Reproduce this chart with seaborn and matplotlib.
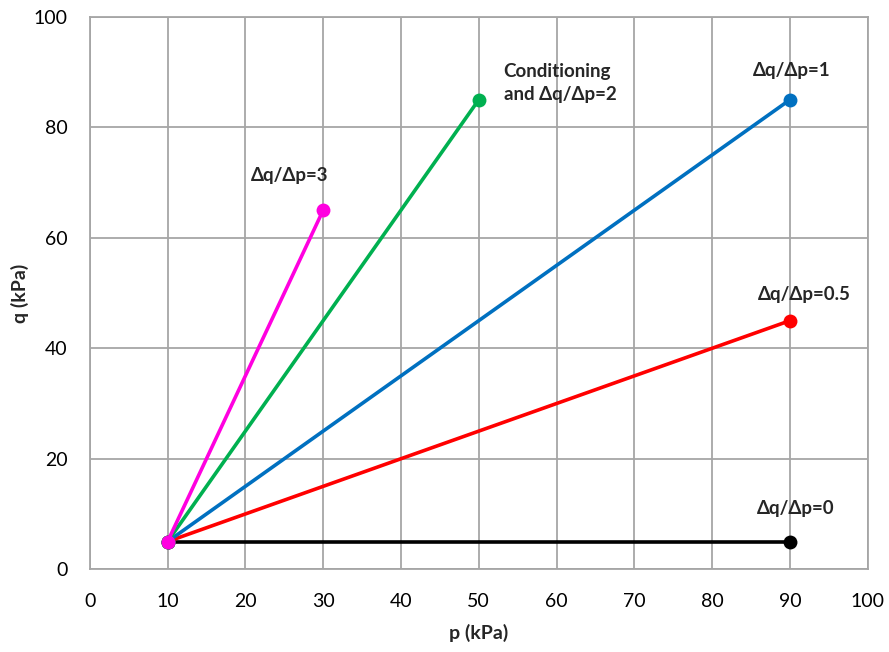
import matplotlib
matplotlib.use("Agg")
import matplotlib.pyplot as plt
import seaborn as sns
import pandas as pd

# Data
series_names = ["Δq/Δp=0", "Δq/Δp=0.5", "Δq/Δp=1", "Conditioning and Δq/Δp=2", "Δq/Δp=3"]
p_start = [10, 10, 10, 10, 10]
q_start = [5, 5, 5, 5, 5]
p_end = [90, 90, 90, 50, 30]
q_end = [5, 45, 85, 85, 65]
colors = ["#000000", "#FF0000", "#0070C0", "#00B050", "#FF00E0"]
x_ticks = list(range(0, 101, 10))
y_ticks = list(range(0, 101, 20))

labels_text = ["Δq/Δp=0", "Δq/Δp=0.5", "Δq/Δp=1", "Conditioning\nand Δq/Δp=2", "Δq/Δp=3"]
label_pos = [(90.7, 11.0, "center"), (91.9, 49.8, "center"), (90.2, 90.3, "center"),
             (53.2, 88.0, "left"), (25.7, 71.2, "center")]

rows = []
for name, ps, qs, pe, qe in zip(series_names, p_start, q_start, p_end, q_end):
    rows.append({"series": name, "p": ps, "q": qs})
    rows.append({"series": name, "p": pe, "q": qe})
df = pd.DataFrame(rows)

sns.set_style("white")
plt.rcParams["font.family"] = ["Lato", "DejaVu Sans"]

fig = plt.figure(figsize=(8.89, 6.52), dpi=100)
ax = fig.add_axes([0.101, 0.127, 0.875, 0.847])

sns.lineplot(data=df, x="p", y="q", hue="series", hue_order=series_names,
             palette=colors, marker="o", markersize=10, markeredgewidth=0,
             linewidth=2.6, legend=False, ax=ax, sort=False, zorder=3)

ax.set_xlim(0, 100)
ax.set_ylim(0, 100)
ax.set_xticks(x_ticks)
ax.set_yticks(y_ticks)
ax.grid(True, color="#A6A6A6", linewidth=1.3)
ax.set_axisbelow(True)
for s in ax.spines.values():
    s.set_color("#A6A6A6")
    s.set_linewidth(1.3)
ax.tick_params(axis="both", which="major", length=5, width=1.3, color="#A6A6A6",
               labelsize=14, labelcolor="#000000", direction="out")
ax.tick_params(axis="x", pad=12)
ax.tick_params(axis="y", pad=11)

ax.set_xlabel("p (kPa)", fontsize=14, fontweight="bold", labelpad=10)
ax.set_ylabel("q (kPa)", fontsize=14, fontweight="bold", labelpad=3)

for txt, (x, y, ha) in zip(labels_text, label_pos):
    ax.text(x, y, txt, ha=ha, va="center", fontsize=13.5, fontweight="bold",
            linespacing=1.4)

fig.savefig("out.png", dpi=100)
